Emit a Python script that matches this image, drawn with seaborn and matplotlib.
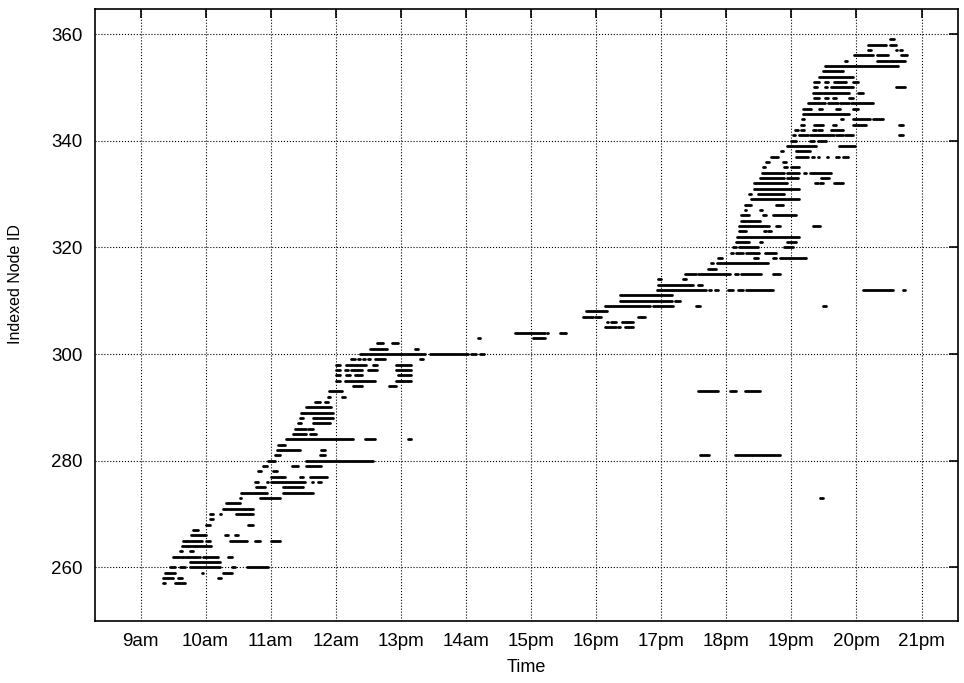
import pandas as pd
import matplotlib
matplotlib.use('Agg')
import matplotlib.pyplot as plt
import seaborn as sns

# (node id, start hour, end hour) for each activity stretch
morning = [
    (257, 9.35, 9.37), (257, 9.53, 9.68),
    (258, 9.35, 9.50), (258, 9.58, 9.63), (258, 10.19, 10.24),
    (259, 9.37, 9.53), (259, 9.94, 9.96), (259, 10.26, 10.40),
    (260, 9.45, 9.53), (260, 9.60, 9.68), (260, 9.76, 10.22), (260, 10.41, 10.45), (260, 10.63, 10.96),
    (261, 9.76, 10.22),
    (262, 9.50, 9.91), (262, 9.96, 10.19), (262, 10.35, 10.41),
    (263, 9.60, 9.63), (263, 9.76, 9.81),
    (264, 9.63, 10.09),
    (265, 9.66, 9.94), (265, 10.00, 10.07), (265, 10.37, 10.63), (265, 10.76, 10.83), (265, 11.01, 11.14),
    (266, 9.78, 10.01), (266, 10.30, 10.35), (266, 10.45, 10.50),
    (267, 9.81, 9.89),
    (268, 10.01, 10.07), (268, 10.65, 10.73),
    (269, 10.07, 10.12),
    (270, 10.07, 10.12), (270, 10.22, 10.24), (270, 10.47, 10.73),
    (271, 10.27, 10.73),
    (272, 10.31, 10.53),
    (273, 10.53, 10.55), (273, 10.83, 11.14),
    (274, 10.55, 10.94), (274, 11.19, 11.65),
    (275, 10.78, 10.91), (275, 11.19, 11.50),
    (276, 10.76, 10.81), (276, 10.94, 10.96), (276, 11.01, 11.52), (276, 11.63, 11.65), (276, 11.73, 11.78),
    (277, 11.01, 11.22), (277, 11.45, 11.50), (277, 11.60, 11.86),
    (278, 10.80, 10.85), (278, 11.03, 11.09),
    (279, 10.88, 10.94), (279, 11.32, 11.42), (279, 11.55, 11.78),
    (280, 10.96, 11.06), (280, 11.55, 12.57),
    (281, 11.06, 11.14), (281, 11.75, 11.83),
    (282, 11.09, 11.45), (282, 11.78, 11.83),
    (283, 11.11, 11.22),
    (284, 11.24, 12.27), (284, 12.45, 12.60), (284, 13.11, 13.16),
    (285, 11.35, 11.55), (285, 11.60, 11.70),
    (286, 11.37, 11.55), (286, 11.58, 11.65),
    (287, 11.42, 11.47), (287, 11.65, 11.91),
    (288, 11.45, 11.49), (288, 11.65, 11.96),
    (289, 11.47, 11.96),
    (290, 11.54, 11.93),
    (291, 11.68, 11.75), (291, 11.83, 11.88),
    (292, 11.88, 11.91), (292, 12.09, 12.14),
    (293, 11.90, 12.09),
    (294, 12.27, 12.40), (294, 12.81, 12.93),
    (295, 12.01, 12.06), (295, 12.14, 12.60), (295, 12.93, 13.16),
    (296, 12.01, 12.06), (296, 12.16, 12.22), (296, 12.29, 12.40), (296, 12.96, 13.16),
    (297, 12.01, 12.06), (297, 12.14, 12.19), (297, 12.24, 12.40), (297, 12.50, 12.63), (297, 12.93, 13.16),
    (298, 12.01, 12.06), (298, 12.16, 12.47), (298, 12.57, 12.63), (298, 12.93, 13.16),
    (299, 12.24, 12.29), (299, 12.34, 12.37), (299, 12.42, 12.45), (299, 12.50, 12.52),
    (299, 12.60, 12.75), (299, 13.29, 13.34),
    (300, 12.37, 13.37), (300, 13.44, 14.03), (300, 14.08, 14.16), (300, 14.21, 14.27),
    (301, 12.52, 12.78), (301, 13.22, 13.27),
    (302, 12.63, 12.72), (302, 12.86, 12.96),
    (303, 14.19, 14.22), (303, 15.03, 15.21),
    (304, 14.75, 15.21), (304, 15.24, 15.26), (304, 15.44, 15.54),
]

afternoon = [
    (273, 19.44, 19.49),
    (281, 17.59, 17.74), (281, 18.13, 18.82),
    (293, 17.57, 17.87), (293, 18.05, 18.15), (293, 18.28, 18.51),
    (305, 16.13, 16.31), (305, 16.34, 16.36), (305, 16.44, 16.57),
    (306, 16.16, 16.18), (306, 16.23, 16.31), (306, 16.39, 16.57),
    (307, 15.80, 15.95), (307, 15.98, 16.08), (307, 16.64, 16.75),
    (308, 15.85, 16.16),
    (309, 16.13, 16.75), (309, 16.77, 16.82), (309, 16.87, 17.18), (309, 17.54, 17.59), (309, 19.49, 19.53),
    (310, 16.36, 17.16), (310, 17.21, 17.29),
    (311, 16.36, 17.16),
    (312, 16.93, 17.69), (312, 17.74, 17.77), (312, 17.82, 17.87), (312, 18.03, 18.10),
    (312, 18.18, 18.26), (312, 18.31, 18.72), (312, 20.10, 20.56), (312, 20.71, 20.74),
    (313, 16.95, 17.49), (313, 17.57, 17.62),
    (314, 16.95, 17.00), (314, 17.34, 17.38),
    (315, 17.36, 17.54), (315, 17.57, 18.05), (315, 18.13, 18.18), (315, 18.23, 18.54), (315, 18.72, 18.82),
    (316, 17.72, 17.84),
    (317, 17.76, 17.79), (317, 17.86, 18.64),
    (318, 17.88, 17.94), (318, 18.43, 18.48), (318, 18.72, 18.77), (318, 18.82, 19.23),
    (319, 18.07, 18.10), (319, 18.15, 18.26), (319, 18.30, 18.50), (319, 18.60, 18.77),
]

evening = [
    (320, 18.10, 18.15), (320, 18.20, 18.48), (320, 18.89, 19.02),
    (321, 18.15, 18.35), (321, 18.51, 18.55), (321, 18.94, 19.07),
    (322, 18.17, 19.12),
    (323, 18.20, 18.30), (323, 18.58, 18.61), (323, 18.64, 18.69),
    (324, 18.20, 18.66), (324, 18.76, 18.82), (324, 19.33, 19.38), (324, 19.40, 19.44),
    (325, 18.23, 18.51),
    (326, 18.23, 18.35), (326, 18.56, 18.61), (326, 18.71, 19.07),
    (327, 18.28, 18.30), (327, 18.52, 18.55),
    (328, 18.28, 18.38), (328, 18.76, 18.87),
    (329, 18.38, 19.12),
    (330, 18.35, 18.38), (330, 18.48, 18.89),
    (331, 18.43, 19.12),
    (332, 18.42, 18.94), (332, 19.37, 19.41), (332, 19.44, 19.48), (332, 19.65, 19.79),
    (333, 18.52, 18.82), (333, 18.84, 18.89), (333, 18.94, 19.10), (333, 19.46, 19.58),
    (334, 18.55, 18.89), (334, 18.94, 19.12), (334, 19.20, 19.23), (334, 19.28, 19.61),
    (335, 18.56, 18.60), (335, 18.89, 18.93), (335, 18.99, 19.12),
    (336, 18.61, 18.66), (336, 18.87, 18.92),
    (337, 18.69, 18.79), (337, 19.07, 19.25), (337, 19.32, 19.35), (337, 19.41, 19.43),
    (337, 19.54, 19.57), (337, 19.69, 19.73), (337, 19.79, 19.87),
    (338, 18.84, 18.87), (338, 19.07, 19.28),
    (339, 18.94, 19.38), (339, 19.73, 19.98),
    (340, 18.99, 19.07), (340, 19.29, 19.35), (340, 19.41, 19.53),
    (341, 19.02, 19.06), (341, 19.12, 19.25), (341, 19.28, 19.33), (341, 19.35, 19.65),
    (341, 19.69, 19.79), (341, 19.82, 19.94), (341, 20.65, 20.71),
    (342, 19.06, 19.10), (342, 19.15, 19.20), (342, 19.33, 19.38), (342, 19.41, 19.47), (342, 19.61, 19.80),
    (343, 19.15, 19.20), (343, 19.35, 19.48), (343, 19.64, 19.68), (343, 19.95, 20.15), (343, 20.65, 20.71),
    (344, 19.16, 19.20), (344, 19.76, 19.80), (344, 19.95, 20.20), (344, 20.25, 20.40),
    (345, 19.18, 19.89),
    (346, 19.18, 19.30), (346, 19.43, 19.47), (346, 19.69, 19.74), (346, 19.94, 20.02),
    (347, 19.25, 19.51), (347, 19.56, 19.71), (347, 19.74, 19.89), (347, 19.92, 20.25),
    (348, 19.35, 19.43), (348, 19.51, 19.56), (348, 19.64, 19.69), (348, 19.89, 19.94),
    (349, 19.33, 19.89), (349, 20.02, 20.10),
    (350, 19.34, 19.40), (350, 19.51, 19.54), (350, 19.61, 19.94), (350, 20.61, 20.74),
    (351, 19.35, 19.43), (351, 19.51, 19.56), (351, 19.65, 19.84), (351, 19.95, 20.02),
    (352, 19.43, 19.94),
    (353, 19.48, 19.79),
    (354, 19.52, 20.64),
    (355, 19.83, 19.86), (355, 20.31, 20.74),
    (356, 19.96, 20.26), (356, 20.31, 20.49), (356, 20.69, 20.77),
    (357, 20.18, 20.22), (357, 20.60, 20.63), (357, 20.67, 20.70),
    (358, 20.18, 20.45), (358, 20.51, 20.60),
    (359, 20.51, 20.58),
]

hour_ticks = [9, 10, 11, 12, 13, 14, 15, 16, 17, 18, 19, 20, 21]
hour_labels = ['9am', '10am', '11am', '12am', '13pm', '14am', '15pm',
               '16pm', '17pm', '18pm', '19pm', '20pm', '21pm']
node_ticks = [260, 280, 300, 320, 340, 360]

# long table: two rows (start, end) per stretch
rows = []
for seg_id, (node, t0, t1) in enumerate(morning + afternoon + evening):
    rows.append({'seg': seg_id, 'time': t0, 'node': node})
    rows.append({'seg': seg_id, 'time': t1, 'node': node})
df = pd.DataFrame(rows)

sns.set_style('white')
plt.rcParams['font.family'] = ['Liberation Sans', 'DejaVu Sans']
plt.rcParams['text.color'] = 'black'
plt.rcParams['axes.labelcolor'] = 'black'

fig = plt.figure(figsize=(9.64, 6.83), dpi=100)
ax = fig.add_axes([0.0985, 0.0912, 0.8953, 0.8949])

sns.lineplot(data=df, x='time', y='node', units='seg', estimator=None, sort=False,
             color='black', linewidth=2.0, ax=ax, legend=False)

ax.set_xlim(8.30, 21.56)
ax.set_ylim(250, 364.6)
ax.set_xticks(hour_ticks)
ax.set_xticklabels(hour_labels)
ax.set_yticks(node_ticks)

ax.grid(True, linestyle=':', color='black', linewidth=0.8)
ax.tick_params(direction='in', length=6.5, width=1.2, top=True, right=True,
               labelsize=13.5, pad=9, colors='black')
for sp in ax.spines.values():
    sp.set_color('black')
    sp.set_linewidth(1.2)

ax.set_xlabel('Time', fontsize=13, labelpad=6)
ax.set_ylabel('Indexed Node ID', fontsize=11.5)
ax.yaxis.set_label_coords(-0.083, 0.55)

fig.savefig('out.png', dpi=100)
